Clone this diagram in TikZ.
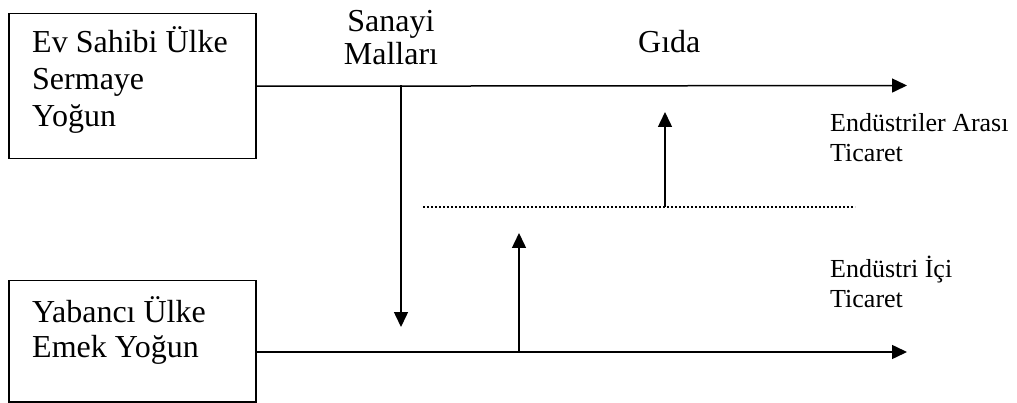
\documentclass[tikz,border=0pt]{standalone}
\usepackage{fontspec}
\setmainfont{Liberation Serif}
\usetikzlibrary{arrows.meta}
\begin{document}
\begin{tikzpicture}[x=1pt,y=-1pt,
  box/.style={draw,line width=1.5pt,inner sep=0pt,anchor=north west},
  big/.style={font=\fontsize{32}{37}\selectfont,inner sep=0pt,anchor=base west},
  bigc/.style={font=\fontsize{32}{37}\selectfont,inner sep=0pt,anchor=base},
  small/.style={font=\fontsize{26}{31}\selectfont,inner sep=0pt,anchor=base west},
  flow/.style={line width=1.5pt,-{Triangle[length=15pt,width=14pt]}},
  dots/.style={line width=1.6pt,dash pattern=on 1.6pt off 2.4pt}
  ]
\useasboundingbox (0,0) rectangle (1017,403);
\fill[white] (0,0) rectangle (1017,403);
% boxes
\node[box,minimum width=247pt,minimum height=145pt] (top) at (8,13) {};
\node[box,minimum width=247pt,minimum height=121pt] (bot) at (8,280) {};
% box texts
\node[big] (ta) at (32,53) {Ev Sahibi Ülke};
\node[big] (tb) at (32,90) {Sermaye};
\node[big] (tc) at (32,127) {Yoğun};
\node[big] (ba) at (32,323) {Yabancı Ülke};
\node[big] (bb) at (32,357) {Emek Yoğun};
% labels
\node[bigc] (sa) at (391,32) {Sanayi};
\node[bigc] (sb) at (391,65) {Malları};
\node[big] (gida) at (638,53) {Gıda};
\node[small] (ea) at (830,132) {Endüstriler Arası};
\node[small] (eb) at (830,162) {Ticaret};
\node[small] (ia) at (830,277) {Endüstri İçi};
\node[small] (ib) at (830,308) {Ticaret};
% coordinates
\coordinate (tend) at (907,85.5);
\coordinate (dstart) at (401,85.5);
\coordinate (dend) at (401,327);
\coordinate (dl) at (423,207);
\coordinate (dr) at (855,207);
\coordinate (u1s) at (665,207);
\coordinate (u1e) at (665,112);
\coordinate (bend) at (907,352);
\coordinate (u2s) at (519,352);
\coordinate (u2e) at (519,233);
% connectors
\draw[flow] (top.east) -- (tend);
\draw[flow] (dstart) -- (dend);
\draw[dots] (dl) -- (dr);
\draw[flow] (u1s) -- (u1e);
\draw[flow] (bot.east |- bend) -- (bend);
\draw[flow] (u2s) -- (u2e);
\end{tikzpicture}
\end{document}
